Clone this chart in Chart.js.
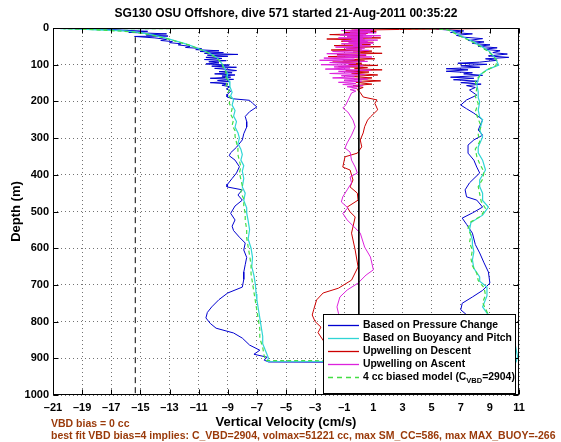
<!DOCTYPE html>
<html><head><meta charset="utf-8">
<script src="https://cdn.jsdelivr.net/npm/chart.js@4"></script>
<style>
html,body{margin:0;padding:0;background:#fff;}
#wrap{position:relative;width:561px;height:442px;overflow:hidden;}
canvas{position:absolute;left:0;top:0;}
.note{position:absolute;left:51px;font:bold 10.5px 'Liberation Sans',Arial,sans-serif;color:#9a3a0a;white-space:nowrap;line-height:12px;}
</style></head><body>
<div id="wrap"><canvas id="c" width="561" height="442"></canvas>
<div class="note" style="top:417px">VBD bias = 0 cc</div>
<div class="note" style="top:429px">best fit VBD bias=4 implies: C_VBD=2904, volmax=51221 cc, max SM_CC=586, max MAX_BUOY=-266</div>
</div>
<script>
const TITLE = 'SG130 OSU Offshore, dive 571 started 21-Aug-2011 00:35:22';
const X_TITLE = 'Vertical Velocity (cm/s)';
const Y_TITLE = 'Depth (m)';
const xTickValues = [-21,-19,-17,-15,-13,-11,-9,-7,-5,-3,-1,1,3,5,7,9,11];
const xTickLabels = ['\u201321','\u201319','\u201317','\u201315','\u201313','\u201311','\u20139','\u20137','\u20135','\u20133','\u20131','1','3','5','7','9','11'];
const yTickValues = [0,100,200,300,400,500,600,700,800,900,1000];
const yTickLabels = ['0','100','200','300','400','500','600','700','800','900','1000'];

// [velocity cm/s, depth m]
const pressureChange = [[0,0.5],[-19.5,2],[-17,4],[-16.2,6],[-14.5,9],[-15.8,12],[-13.2,16],[-14.6,19],[-13.1,22],[-15.4,23],[-14,27],[-13.2,31],[-13.6,34],[-12.8,37],[-13.0,40],[-12.2,43],[-12.4,46],[-11.6,50],[-11.9,53],[-10.8,56],[-11.2,59],[-9.6,62],[-10.9,64],[-9.3,67],[-10.6,69],[-8.3,72],[-10.4,74],[-9.0,77],[-10.5,80],[-9.4,83],[-10.6,86],[-9.1,89],[-10.3,92],[-9.6,95],[-10.5,98],[-8.9,101],[-10.1,104],[-8.4,107],[-9.9,110],[-9.0,113],[-8.4,116],[-9.6,119],[-8.7,122],[-9.9,125],[-8.5,128],[-9.4,131],[-8.8,134],[-10.2,137],[-8.6,140],[-9.7,143],[-8.9,146],[-10.2,149],[-9.0,152],[-9.4,156],[-8.85,160],[-9.1,166],[-8.8,172],[-9.0,180],[-9.05,188],[-8.6,193],[-7.5,197],[-7.3,205],[-7.0,215],[-7.5,228],[-7.8,241],[-7.7,255],[-7.7,270],[-7.9,288],[-8.0,305],[-8.4,325],[-8.8,340],[-8.9,348],[-8.5,360],[-8.2,378],[-8.4,395],[-8.7,410],[-9.0,425],[-9.05,433],[-8.0,441],[-8.3,455],[-8.0,469],[-8.5,485],[-8.8,505],[-8.5,523],[-8.7,540],[-8.6,552],[-8.2,570],[-7.8,586],[-7.9,605],[-7.7,625],[-7.8,645],[-7.9,665],[-7.9,685],[-8.0,706],[-9.0,722],[-9.6,740],[-10.1,760],[-10.4,775],[-10.5,790],[-10.2,805],[-9.8,818],[-8.6,831],[-8.0,845],[-7.5,864],[-6.8,878],[-7.2,889],[-6.3,897],[-6.5,905],[-6.2,910],
[10.3,912],[10.6,900],[10.4,880],[10.0,860],[9.4,840],[8.6,820],[7.8,795],[7.3,778],[7.0,768],[7.1,750],[7.8,733],[8.5,715],[9.0,695],[8.9,665],[8.6,640],[8.3,613],[8.0,590],[7.8,559],[7.4,535],[7.1,518],[7.8,504],[8.5,488],[8.1,469],[7.4,460],[7.3,441],[7.6,422],[8.3,395],[8.1,379],[7.9,360],[7.5,341],[7.5,319],[7.9,305],[8.5,292],[8.2,278],[8.5,250],[7.9,232],[7.4,220],[7.0,210],[7.4,196],[8.1,183],[7.6,169],[8.0,162],[7.4,157],[8.4,153],[7.0,149],[8.2,145],[6.5,141],[7.9,137],[6.3,134],[8.5,129],[7.2,125],[7.8,122],[6.0,118],[7.5,114],[6.0,111],[8.3,107],[7.0,103],[8.8,99],[6.8,96],[8.3,93],[9.5,88],[8.7,84],[10.3,80],[8.9,76],[10.2,71],[9.2,67],[9.7,62],[8.6,58],[9.5,54],[8.2,50],[9.0,46],[7.8,42],[8.6,38],[7.5,34],[8.5,29],[7.2,25],[6.7,20],[7.8,16],[6.3,12],[7.2,8],[6.0,5],[5.0,2],[0,0.5]];

const buoyancyPitch = [[0,0.5],[-20.5,2],[-19,3],[-18,5],[-16.5,7],[-15.5,10],[-14.8,14],[-14.0,20],[-13.3,27],[-12.6,35],[-12.0,42],[-11.4,50],[-10.9,58],[-10.4,66],[-10.0,74],[-9.7,82],[-9.5,92],[-9.3,102],[-9.2,112],[-9.0,125],[-9.05,135],[-8.9,145],[-8.85,160],[-8.7,175],[-8.8,185],[-8.6,195],[-8.7,210],[-8.5,225],[-8.6,240],[-8.4,255],[-8.5,270],[-8.3,285],[-8.2,300],[-8.3,315],[-8.1,330],[-8.0,345],[-8.1,360],[-7.9,375],[-8.0,390],[-7.9,410],[-8.0,433],[-7.8,450],[-7.9,470],[-7.7,490],[-7.7,504],[-7.6,525],[-7.5,550],[-7.6,575],[-7.4,600],[-7.3,625],[-7.35,650],[-7.2,675],[-7.1,700],[-7.05,725],[-7.0,741],[-6.9,765],[-6.8,790],[-6.7,815],[-6.6,840],[-6.6,860],[-6.4,880],[-6.2,900],[-6.3,908],
[10.8,910],[10.9,895],[10.8,875],[10.7,855],[10.5,835],[10.4,815],[10.0,800],[9.2,790],[8.8,777],[8.5,760],[8.6,750],[8.8,730],[8.8,706],[8.3,690],[8.3,678],[7.9,655],[7.8,632],[7.9,610],[7.8,590],[7.8,578],[7.6,550],[7.7,530],[8.5,510],[8.9,488],[8.5,470],[8.5,450],[8.3,432],[8.3,414],[8.7,387],[8.5,360],[8.2,340],[8.2,324],[8.5,297],[8.3,278],[8.5,250],[8.3,242],[8.2,224],[8.3,202],[8.2,190],[8.2,174],[8.1,153],[8.3,128],[8.8,114],[9.3,106],[9.6,101],[9.4,84],[9.0,65],[8.5,52],[7.9,38],[7.2,25],[6.7,15],[6.3,5],[5.5,2],[0,0.5]];

const upwellDescent = [[0.3,0],[10.2,1],[2.8,4],[-0.5,6],[1.2,9],[-1.0,12],[0.6,15],[-2.0,18],[0.3,21],[-0.8,24],[1.5,27],[-2.2,30],[0.4,33],[-1.2,36],[1.0,39],[-0.6,42],[0.8,45],[-1.7,48],[1.5,51],[-0.9,54],[0.2,57],[-1.9,60],[0.9,63],[-0.4,66],[1.6,69],[-1.5,72],[0.5,75],[-2.1,78],[-0.2,81],[1.1,84],[-1.1,87],[0.4,90],[-1.8,93],[0.2,96],[-0.7,99],[1.3,102],[-1.4,105],[0.6,108],[-0.3,111],[1.6,114],[-0.9,117],[0.7,120],[-0.5,123],[1.3,128],[-0.6,132],[0.9,136],[-0.3,140],[1.5,144],[-0.2,148],[0.9,153],[-0.4,157],[0.3,162],[-0.1,168],[0.1,176],[0.3,188],[1.25,196],[1.1,205],[1.3,223],[0.8,242],[0.6,251],[0.4,269],[0.3,286],[0.1,305],[0.2,324],[-0.1,341],[-0.95,351],[-1.1,379],[-0.6,387],[-0.4,414],[-0.6,433],[-0.1,450],[-0.05,469],[-0.8,488],[-0.6,501],[-0.25,515],[-0.5,559],[-0.25,605],[-0.05,651],[-0.5,687],[-1.4,709],[-2.45,722],[-2.9,741],[-3.1,768],[-3.2,782],[-3.0,800],[-2.6,815],[-2.8,830],[-2.3,860],[-1.6,885],[-1.0,905]];

const upwellAscent = [[0,0.5],[-0.3,3],[1.0,5],[-1.2,7],[0.8,9],[-0.6,11],[1.2,13],[-1.0,15],[0.5,17],[-1.3,19],[1.5,21],[-0.8,23],[0.9,25],[-1.4,27],[0.3,29],[-0.5,31],[1.3,33],[-1.1,35],[0.6,37],[-0.7,39],[1.0,41],[-1.2,43],[0.2,45],[-0.4,47],[0.8,49],[-1.6,52],[0.4,55],[-0.9,58],[0.7,61],[-1.8,64],[0.1,67],[-2.2,70],[0.5,73],[-1.5,76],[0.9,79],[-2.4,82],[-0.3,85],[-2.7,88],[0.6,91],[-2.0,94],[-0.2,97],[-2.6,100],[0.3,103],[-1.7,106],[-0.6,109],[-2.3,112],[0.8,115],[-1.4,118],[-0.1,121],[-2.0,124],[0.4,127],[-1.2,130],[-0.3,133],[-1.8,136],[0.6,139],[-1.0,142],[0.2,145],[-1.4,148],[-0.2,151],[-1.1,154],[0.3,157],[-0.8,160],[-0.1,164],[-0.6,168],[-0.2,172],[-0.5,177],[-0.9,210],[-1.1,218],[-0.75,229],[-0.4,251],[-0.25,269],[-0.5,292],[-0.8,313],[-0.95,327],[-0.6,338],[-0.5,360],[-0.25,379],[-0.1,395],[-0.6,406],[-0.5,422],[-0.8,441],[-1.1,460],[-1.2,474],[-0.75,490],[-1.1,505],[-0.8,523],[0.1,559],[0.4,597],[0.8,624],[1.0,659],[0.5,673],[-0.05,695],[-0.8,714],[-1.3,733],[-1.5,760],[-1.4,777],[-1.2,800],[-0.9,830],[-0.6,860],[-0.4,890],[-0.3,905]];

const biasedModel = [[0,0.5],[-20.3,2],[-18.5,4],[-17.5,6],[-16.2,9],[-15.3,12],[-14.5,17],[-13.8,23],[-13.0,31],[-12.3,39],[-11.7,46],[-11.1,55],[-10.6,63],[-10.2,71],[-9.9,79],[-9.6,88],[-9.4,98],[-9.3,108],[-9.1,120],[-9.2,130],[-9.0,142],[-9.1,155],[-8.9,168],[-9.0,180],[-8.8,192],[-8.9,205],[-8.7,220],[-8.8,235],[-8.6,250],[-8.7,265],[-8.5,280],[-8.5,295],[-8.4,312],[-8.3,328],[-8.3,345],[-8.2,362],[-8.1,378],[-8.2,395],[-8.1,412],[-8.0,430],[-8.1,448],[-7.9,466],[-7.9,485],[-7.8,505],[-7.8,525],[-7.7,548],[-7.7,572],[-7.6,596],[-7.5,620],[-7.4,645],[-7.4,670],[-7.3,695],[-7.2,720],[-7.1,745],[-7.0,770],[-6.9,795],[-6.8,820],[-6.8,845],[-6.6,870],[-6.5,893],[-6.4,906],
[10.6,909],[10.7,890],[10.6,868],[10.6,848],[10.4,828],[10.2,812],[9.5,797],[8.9,782],[8.7,765],[8.5,748],[8.7,728],[8.6,708],[8.2,688],[8.1,668],[7.8,648],[7.7,628],[7.8,605],[7.6,585],[7.7,565],[7.5,545],[7.7,528],[8.4,512],[8.7,492],[8.4,472],[8.3,452],[8.2,432],[8.5,412],[8.6,392],[8.3,370],[8.1,350],[8.0,330],[8.3,310],[8.2,290],[8.4,268],[8.2,248],[8.0,228],[8.2,206],[8.0,186],[8.1,165],[8.0,145],[8.4,126],[8.9,112],[9.4,103],[9.5,90],[9.2,75],[8.8,62],[8.3,49],[7.7,36],[7.0,23],[6.5,13],[6.1,5],[5.2,2],[0,0.5]];

const zeroLine = [[0,0],[0,1000]];
const stallLine = [[-15.35,25],[-15.35,1000]];

const legendLabels = ['Based on Pressure Change','Based on Buoyancy and Pitch','Upwelling on Descent','Upwelling on Ascent'];
const modelLegend = ['4 cc biased model (C', 'VBD', '=2904)'];

const FONT = "'Liberation Sans', Arial, Helvetica, sans-serif";
const C_BLUE = '#0000d0', C_CYAN = '#30d5d5', C_RED = '#cc0000', C_MAG = '#dd22dd', C_GREEN = '#44dd44';

const toPts = arr => arr.map(p => ({x: p[0], y: p[1]}));
const mk = (label, arr, color, order, dash, width) => ({
  label, data: toPts(arr), borderColor: color, backgroundColor: color,
  borderWidth: width || 1, pointRadius: 0, pointHoverRadius: 0, showLine: true,
  fill: false, tension: 0, order, borderDash: dash || []
});

const boxPlugin = {
  id: 'matlabBox',
  afterDatasetsDraw(chart) {
    const {ctx, chartArea: a, scales} = chart;
    ctx.save();
    ctx.strokeStyle = '#000'; ctx.lineWidth = 1; ctx.setLineDash([]);
    const L = Math.round(a.left) + 0.5, R = Math.round(a.right) - 0.5;
    const T = Math.round(a.top) + 0.5, B = Math.round(a.bottom) - 0.5;
    ctx.beginPath();
    const tl = 5;
    scales.x.ticks.forEach(t => {
      const px = Math.round(scales.x.getPixelForValue(t.value)) + 0.5;
      ctx.moveTo(px, B); ctx.lineTo(px, B - tl);
      ctx.moveTo(px, T); ctx.lineTo(px, T + tl);
    });
    scales.y.ticks.forEach(t => {
      const py = Math.round(scales.y.getPixelForValue(t.value)) + 0.5;
      ctx.moveTo(L, py); ctx.lineTo(L + tl, py);
      ctx.moveTo(R, py); ctx.lineTo(R - tl, py);
    });
    ctx.stroke();
    ctx.strokeRect(L, T, R - L, B - T);
    ctx.restore();
  },
  afterDraw(chart) {
    const {ctx, chartArea: a} = chart;
    const w = 192, h = 79;
    const x0 = Math.round(a.right - 4 - w), y0 = Math.round(a.bottom - 2 - h);
    ctx.save();
    ctx.fillStyle = '#fff'; ctx.fillRect(x0, y0, w, h);
    ctx.strokeStyle = '#000'; ctx.lineWidth = 1; ctx.strokeRect(x0 + 0.5, y0 + 0.5, w, h);
    const items = [
      {color: C_BLUE, parts: [legendLabels[0]]},
      {color: C_CYAN, parts: [legendLabels[1]]},
      {color: C_RED, parts: [legendLabels[2]]},
      {color: C_MAG, parts: [legendLabels[3]]},
      {color: C_GREEN, dash: [5, 4], parts: [modelLegend[0], {sub: modelLegend[1]}, modelLegend[2]]}
    ];
    ctx.textAlign = 'left'; ctx.textBaseline = 'middle';
    items.forEach((it, i) => {
      const y = Math.round(y0 + 10.5 + i * 13) + 0.5;
      ctx.strokeStyle = it.color; ctx.lineWidth = 1.3; ctx.setLineDash(it.dash || []);
      ctx.beginPath(); ctx.moveTo(x0 + 5, y); ctx.lineTo(x0 + 36, y); ctx.stroke();
      ctx.setLineDash([]);
      ctx.fillStyle = '#000';
      let tx = x0 + 40;
      it.parts.forEach(p => {
        if (typeof p === 'string') {
          ctx.font = 'bold 10.4px ' + FONT;
          ctx.fillText(p, tx, y);
          tx += ctx.measureText(p).width;
        } else {
          ctx.font = 'bold 7.5px ' + FONT;
          ctx.fillText(p.sub, tx, y + 3);
          tx += ctx.measureText(p.sub).width;
        }
      });
    });
    ctx.restore();
  }
};

const tickFont = {family: FONT, size: 11, weight: 'bold'};
const titleFont = {family: FONT, size: 12, weight: 'bold'};
const labFont = {family: FONT, size: 13, weight: 'bold'};
const gridOpts = {color: 'rgba(0,0,0,0.55)', lineWidth: 1, drawTicks: false};

new Chart(document.getElementById('c'), {
  type: 'scatter',
  data: {datasets: [
    mk('Based on Pressure Change', pressureChange, C_BLUE, 6),
    mk('Based on Buoyancy and Pitch', buoyancyPitch, C_CYAN, 5, [], 1.2),
    mk('Upwelling on Descent', upwellDescent, C_RED, 4),
    mk('Upwelling on Ascent', upwellAscent, C_MAG, 3),
    mk('4 cc biased model', biasedModel, C_GREEN, 2, [4, 3], 1.2),
    mk('zero', zeroLine, '#000', 1),
    mk('stall', stallLine, '#000', 1, [6, 4])
  ]},
  options: {
    responsive: false, animation: false, devicePixelRatio: 1,
    events: [],
    layout: {padding: {left: 0, right: 42, top: 0, bottom: 0}},
    plugins: {
      legend: {display: false}, tooltip: {enabled: false},
      title: {display: true, fullSize: false, text: TITLE, color: '#000', font: titleFont, padding: {top: 6, bottom: 7.6}}
    },
    scales: {
      x: {
        type: 'linear', position: 'bottom', min: -21, max: 11,
        afterFit: s => { s.height = 47; },
        ticks: {stepSize: 2, autoSkip: false, maxRotation: 0, minRotation: 0, padding: 6, color: '#000', font: tickFont,
          callback: v => { const i = xTickValues.indexOf(Math.round(v)); return i >= 0 ? xTickLabels[i] : ''; }},
        grid: gridOpts,
        border: {display: false, dash: [1, 3]},
        title: {display: true, text: X_TITLE, color: '#000', font: labFont, padding: {top: 0, bottom: 12}}
      },
      y: {
        type: 'linear', position: 'left', min: 0, max: 1000, reverse: true,
        afterFit: s => { s.width = 53; },
        ticks: {stepSize: 100, padding: 4, color: '#000', font: tickFont,
          callback: v => { const i = yTickValues.indexOf(Math.round(v)); return i >= 0 ? yTickLabels[i] : ''; }},
        grid: gridOpts,
        border: {display: false, dash: [1, 3]},
        title: {display: true, text: Y_TITLE, color: '#000', font: labFont, padding: {top: 9, bottom: 0}}
      }
    }
  },
  plugins: [boxPlugin]
});
</script>
</body></html>
